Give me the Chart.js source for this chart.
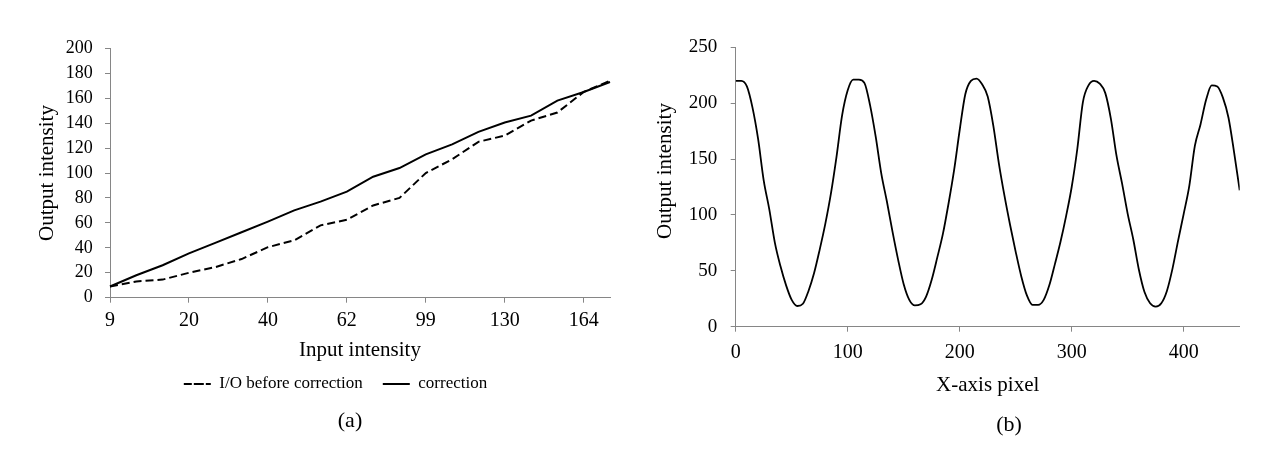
<!DOCTYPE html>
<html>
<head>
<meta charset="utf-8">
<script src="https://cdn.jsdelivr.net/npm/chart.js@4.4.0/dist/chart.umd.min.js"></script>
<style>
    body { margin: 0; background: #fff; width: 1266px; height: 452px; position: relative; overflow: hidden; font-family: "Liberation Serif", serif; }
    canvas { position: absolute; top: 0; }
    #graficaA { left: 0; }
    #graficaB { left: 640px; }
    .rotulo { position: absolute; font-size: 22px; color: #000; transform: translate(-50%, -50%); line-height: 1; }
</style>
</head>
<body>
<canvas id="graficaA" width="630" height="452"></canvas>
<canvas id="graficaB" width="626" height="452"></canvas>
<div class="rotulo" style="left:350px; top:420px;">(a)</div>
<div class="rotulo" style="left:1009px; top:424px;">(b)</div>
<script>
// --- (a) curva de entrada / salida ---
const entradaEtiquetas = ['9', '', '', '20', '', '', '40', '', '', '62', '', '', '99', '', '', '130', '', '', '164', ''];
const salidaAntes = [9, 13, 14.5, 20, 24.5, 31, 40.5, 46, 58, 62.5, 74, 80, 100, 111, 125, 130, 142, 148.5, 165, 174];
const salidaCorregida = [9, 18, 26, 35.5, 44, 52.5, 61, 70, 77, 85, 97, 104, 115, 123, 133, 140.5, 146, 158, 165, 173];
const ticksA = [0, 20, 40, 60, 80, 100, 120, 140, 160, 180, 200];

// --- (b) perfil sobre el eje X ---
const pixelesX = [0, 5, 10, 15, 20, 25, 30, 35, 40, 45, 50, 55, 60, 65, 70, 75, 80, 85, 90, 95,
    100, 105, 110, 115, 120, 125, 130, 135, 140, 145, 150, 155, 160, 165, 170, 175, 180, 185, 190, 195,
    200, 205, 210, 215, 220, 225, 230, 235, 240, 245, 250, 255, 260, 265, 270, 275, 280, 285, 290, 295,
    300, 305, 310, 315, 320, 325, 330, 335, 340, 345, 350, 355, 360, 365, 370, 375, 380, 385, 390, 395,
    400, 405, 410, 415, 420, 425, 430, 435, 440, 445, 450];
const intensidadB = [220, 220, 215, 196, 168, 131, 105, 75, 54, 37, 24, 18.5, 20.5, 32, 48, 69, 92, 119, 152, 189,
    211.5, 221, 221, 218, 198, 170, 137, 112, 85, 60, 38, 24, 19, 20, 27, 42, 62, 83, 110, 140,
    176, 208, 220, 222, 217, 206, 180, 146, 117, 91, 67, 45, 28, 19.5, 19.5, 24, 37, 56, 76, 99,
    125, 159, 201, 216, 220, 217.5, 209, 186, 153, 128, 101, 78, 51, 31, 21, 18, 21, 32, 52, 77,
    101, 126, 162, 181, 203, 216, 215, 205, 187, 156, 122];
const ticksB = [0, 50, 100, 150, 200, 250];

const GRIS_EJE = '#868686';
const NEGRO = '#000';
Chart.defaults.font.family = '"Liberation Serif", serif';
Chart.defaults.color = NEGRO;

document.addEventListener('DOMContentLoaded', () => {
    dibujarGraficaA();
    dibujarGraficaB();
});

function dibujarGraficaA() {
    const ctx = document.getElementById('graficaA').getContext('2d');
    new Chart(ctx, {
        type: 'line',
        data: {
            labels: entradaEtiquetas,
            datasets: [
                { label: 'I/O before correction', data: salidaAntes, borderColor: NEGRO, backgroundColor: NEGRO, borderWidth: 2, borderDash: [8, 4], pointRadius: 0, tension: 0, fill: false },
                { label: 'correction', data: salidaCorregida, borderColor: NEGRO, backgroundColor: NEGRO, borderWidth: 2, pointRadius: 0, tension: 0, fill: false }
            ]
        },
        options: {
            responsive: false,
            animation: false,
            layout: { padding: { top: 48.3, left: 61, right: 20, bottom: 49.5 } },
            plugins: {
                tooltip: { enabled: false },
                legend: {
                    position: 'bottom',
                    // caja de alto 0: se dibuja como una linea con el mismo trazo de la serie
                    labels: { boxWidth: 27, boxHeight: 0, padding: 20, color: NEGRO, font: { size: 17 } }
                }
            },
            scales: {
                x: {
                    afterFit: s => { s.height = 57.8; },
                    border: { display: true, color: GRIS_EJE },
                    grid: { drawOnChartArea: false, drawTicks: true, tickLength: 5, color: c => (c.tick && c.tick.label !== '') ? GRIS_EJE : 'rgba(0,0,0,0)' },
                    ticks: { autoSkip: false, maxRotation: 0, padding: 6, color: NEGRO, font: { size: 20 } },
                    title: { display: true, text: 'Input intensity', color: NEGRO, font: { size: 21 }, padding: { top: 0, bottom: -7.1 } }
                },
                y: {
                    min: 0, max: 200,
                    afterFit: s => { s.width = 49; },
                    afterBuildTicks: s => { s.ticks = ticksA.map(v => ({ value: v })); },
                    border: { display: true, color: GRIS_EJE },
                    grid: { drawOnChartArea: false, drawTicks: true, tickLength: 5, color: GRIS_EJE },
                    ticks: { autoSkip: false, padding: 12.3, color: NEGRO, font: { size: 18 } },
                    title: { display: true, text: 'Output intensity', color: NEGRO, font: { size: 21 }, padding: { top: -26.6, bottom: 0 } }
                }
            }
        }
    });
}

// titulo del eje Y de (b), un poco por encima del centro como en la figura
const tituloEjeYB = {
    id: 'tituloEjeYB',
    afterDraw(chart) {
        const c = chart.ctx;
        c.save();
        c.translate(25, 171);
        c.rotate(-Math.PI / 2);
        c.font = '21px "Liberation Serif"';
        c.fillStyle = NEGRO;
        c.textAlign = 'center';
        c.textBaseline = 'middle';
        c.fillText('Output intensity', 0, 0);
        c.restore();
    }
};

function dibujarGraficaB() {
    const ctx = document.getElementById('graficaB').getContext('2d');
    new Chart(ctx, {
        type: 'line',
        data: {
            datasets: [{
                label: 'Output intensity',
                data: pixelesX.map((x, i) => ({ x, y: intensidadB[i] })),
                borderColor: NEGRO, borderWidth: 1.8, pointRadius: 0, cubicInterpolationMode: 'monotone', fill: false
            }]
        },
        plugins: [tituloEjeYB],
        options: {
            responsive: false,
            animation: false,
            layout: { padding: { top: 47.3, left: 0, right: 26.3, bottom: 50.4 } },
            plugins: { legend: { display: false }, tooltip: { enabled: false } },
            scales: {
                x: {
                    type: 'linear', min: 0, max: 450,
                    afterFit: s => { s.height = 74.9; },
                    border: { display: true, color: GRIS_EJE },
                    grid: { drawOnChartArea: false, drawTicks: true, tickLength: 5, color: GRIS_EJE },
                    ticks: { stepSize: 100, includeBounds: false, maxRotation: 0, padding: 8.6, color: NEGRO, font: { size: 20 } },
                    title: { display: true, text: 'X-axis pixel', color: NEGRO, font: { size: 21 }, padding: { top: 0, bottom: 4 } }
                },
                y: {
                    min: 0, max: 250,
                    afterFit: s => { s.width = 95.7; },
                    afterBuildTicks: s => { s.ticks = ticksB.map(v => ({ value: v })); },
                    border: { display: true, color: GRIS_EJE },
                    grid: { drawOnChartArea: false, drawTicks: true, tickLength: 5, color: GRIS_EJE },
                    ticks: { autoSkip: false, padding: 13.4, color: NEGRO, font: { size: 19 } }
                }
            }
        }
    });
}
</script>
</body>
</html>
